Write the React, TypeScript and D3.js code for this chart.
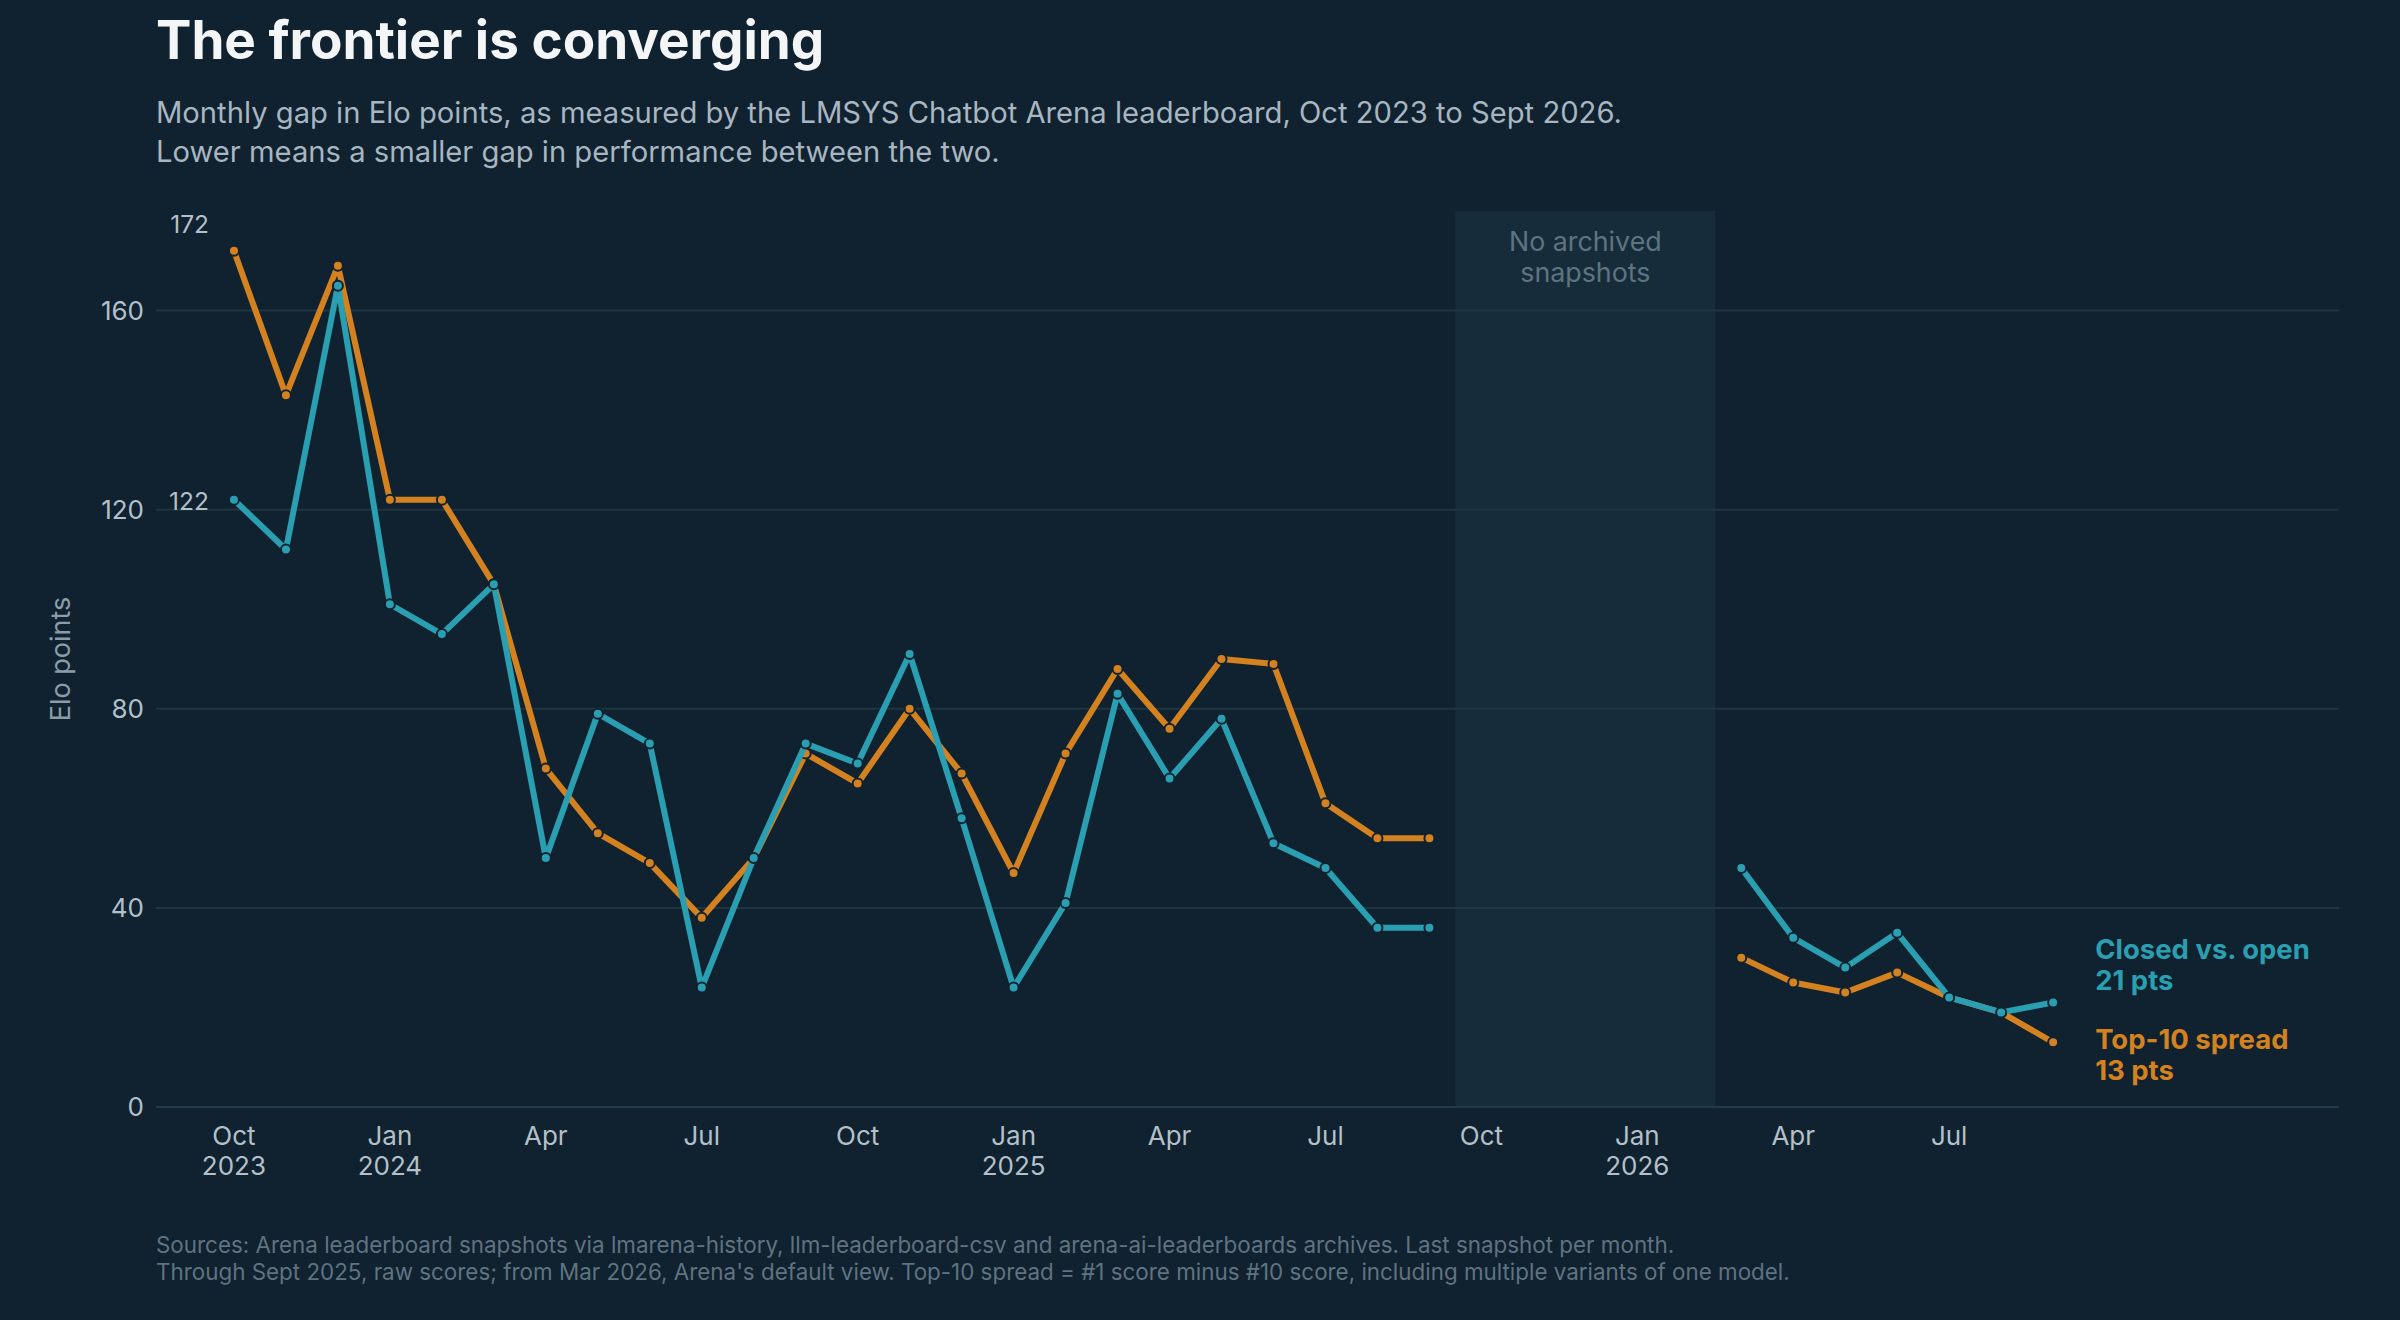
import { useEffect, useRef } from "react"
import * as d3 from "d3"

// Monthly snapshots (YYYY-MM); Oct 2025 – Feb 2026 have no archived data
const months = [
  "2023-10", "2023-11", "2023-12", "2024-01", "2024-02", "2024-03", "2024-04", "2024-05",
  "2024-06", "2024-07", "2024-08", "2024-09", "2024-10", "2024-11", "2024-12", "2025-01",
  "2025-02", "2025-03", "2025-04", "2025-05", "2025-06", "2025-07", "2025-08", "2025-09",
  "2026-03", "2026-04", "2026-05", "2026-06", "2026-07", "2026-08", "2026-09",
]

const closedVsOpen = [
  122, 112, 165, 101, 95, 105, 50, 79, 73, 24, 50, 73, 69, 91, 58, 24,
  41, 83, 66, 78, 53, 48, 36, 36,
  48, 34, 28, 35, 22, 19, 21,
]

const top10Spread = [
  172, 143, 169, 122, 122, 105, 68, 55, 49, 38, 50, 71, 65, 80, 67, 47,
  71, 88, 76, 90, 89, 61, 54, 54,
  30, 25, 23, 27, 22, 19, 13,
]

const yTicks = [0, 40, 80, 120, 160]
const xTickMonths = [
  "2023-10", "2024-01", "2024-04", "2024-07", "2024-10", "2025-01",
  "2025-04", "2025-07", "2025-10", "2026-01", "2026-04", "2026-07",
]
const gapStart = "2025-10"
const gapEnd = "2026-02"

const monthNames = ["Jan", "Feb", "Mar", "Apr", "May", "Jun", "Jul", "Aug", "Sep", "Oct", "Nov", "Dec"]

// months since Oct 2023
const monthIndex = (m: string) => {
  const [y, mo] = m.split("-").map(Number)
  return (y - 2023) * 12 + (mo - 10)
}

const BG = "#10212f"
const TEAL = "#2a9fb1"
const ORANGE = "#d4811f"
const FONT = "Inter, 'Noto Sans', sans-serif"

export default function App() {
  const svgRef = useRef<SVGSVGElement>(null)

  useEffect(() => {
    document.body.style.margin = "0"
    document.body.style.background = BG
    if (!svgRef.current) return

    const svg = d3.select(svgRef.current)
    svg.selectAll("*").remove()

    const width = 2400
    const height = 1320
    const margin = { top: 211, right: 61, bottom: 213, left: 156 }

    svg.append("rect").attr("width", width).attr("height", height).attr("fill", BG)

    const x = d3
      .scaleLinear()
      .domain([-1.5, 40.5])
      .range([margin.left, width - margin.right])
    const y = d3
      .scaleLinear()
      .domain([0, 180])
      .range([height - margin.bottom, margin.top])

    // Title + subtitle
    svg
      .append("text")
      .attr("x", margin.left)
      .attr("y", 59)
      .attr("font-family", FONT)
      .attr("font-size", 53)
      .attr("font-weight", 700)
      .attr("fill", "#f3f5f7")
      .text("The frontier is converging")

    const subtitle = [
      "Monthly gap in Elo points, as measured by the LMSYS Chatbot Arena leaderboard, Oct 2023 to Sept 2026.",
      "Lower means a smaller gap in performance between the two.",
    ]
    svg
      .append("g")
      .selectAll("text")
      .data(subtitle)
      .join("text")
      .attr("x", margin.left)
      .attr("y", (_, i) => 123 + i * 39)
      .attr("font-family", FONT)
      .attr("font-size", 29.2)
      .attr("fill", "#a7b6c0")
      .text((d) => d)

    // Missing-data band
    const bandX0 = x(monthIndex(gapStart) - 0.5)
    const bandX1 = x(monthIndex(gapEnd) + 0.5)
    svg
      .append("rect")
      .attr("x", bandX0)
      .attr("y", margin.top)
      .attr("width", bandX1 - bandX0)
      .attr("height", y(0) - margin.top)
      .attr("fill", "#162c3a")

    svg
      .append("g")
      .selectAll("text")
      .data(["No archived", "snapshots"])
      .join("text")
      .attr("x", (bandX0 + bandX1) / 2)
      .attr("y", (_, i) => 251 + i * 31)
      .attr("text-anchor", "middle")
      .attr("font-family", FONT)
      .attr("font-size", 26.8)
      .attr("fill", "#5d7482")
      .text((d) => d)

    // Grid + y axis
    const grid = svg.append("g")
    grid
      .selectAll("line")
      .data(yTicks)
      .join("line")
      .attr("x1", margin.left)
      .attr("x2", width - margin.right)
      .attr("y1", (d) => y(d))
      .attr("y2", (d) => y(d))
      .attr("stroke", (d) => (d === 0 ? "#1f3d49" : "#1d3641"))
      .attr("stroke-width", 2)

    grid
      .selectAll("text")
      .data(yTicks)
      .join("text")
      .attr("x", margin.left - 12)
      .attr("y", (d) => y(d))
      .attr("dy", "0.35em")
      .attr("text-anchor", "end")
      .attr("font-family", FONT)
      .attr("font-size", 26)
      .attr("fill", "#b3c0c9")
      .text((d) => d)

    svg
      .append("text")
      .attr("transform", `translate(61,${(y(0) + margin.top) / 2}) rotate(-90)`)
      .attr("dy", "0.35em")
      .attr("text-anchor", "middle")
      .attr("font-family", FONT)
      .attr("font-size", 27)
      .attr("fill", "#8a9ca8")
      .text("Elo points")

    // X axis labels
    const xg = svg.append("g")
    xTickMonths.forEach((m) => {
      const [yr, mo] = m.split("-").map(Number)
      const first = m === xTickMonths[0] || mo === 1
      const t = xg
        .append("text")
        .attr("x", x(monthIndex(m)))
        .attr("y", 1145)
        .attr("text-anchor", "middle")
        .attr("font-family", FONT)
        .attr("font-size", 26)
        .attr("fill", "#b3c0c9")
      t.append("tspan").attr("x", x(monthIndex(m))).text(monthNames[mo - 1])
      if (first) t.append("tspan").attr("x", x(monthIndex(m))).attr("dy", 30).text(yr)
    })

    // Series
    const series = [
      { name: "Top-10 spread", values: top10Spread, color: ORANGE },
      { name: "Closed vs. open", values: closedVsOpen, color: TEAL },
    ]

    const line = d3
      .line<{ i: number; v: number }>()
      .x((d) => x(d.i))
      .y((d) => y(d.v))

    series.forEach((s) => {
      const pts = months.map((m, k) => ({ i: monthIndex(m), v: s.values[k] }))
      // split where months are missing
      const segments: { i: number; v: number }[][] = []
      pts.forEach((p, k) => {
        if (k === 0 || p.i - pts[k - 1].i > 1) segments.push([])
        segments[segments.length - 1].push(p)
      })
      const g = svg.append("g")
      g.selectAll("path")
        .data(segments)
        .join("path")
        .attr("d", (d) => line(d))
        .attr("fill", "none")
        .attr("stroke", s.color)
        .attr("stroke-width", 6)
        .attr("stroke-linejoin", "round")
      g.selectAll("circle")
        .data(pts)
        .join("circle")
        .attr("cx", (d) => x(d.i))
        .attr("cy", (d) => y(d.v))
        .attr("r", 5)
        .attr("fill", s.color)
        .attr("stroke", BG)
        .attr("stroke-width", 2)
    })

    // Start-value annotations
    const ann = svg.append("g").attr("font-family", FONT).attr("font-size", 24.5).attr("fill", "#b3c0c9")
    ann
      .append("text")
      .attr("x", x(0) - 25)
      .attr("y", y(top10Spread[0]) - 26)
      .attr("dy", "0.35em")
      .attr("text-anchor", "end")
      .text(top10Spread[0])
    ann
      .append("text")
      .attr("x", x(0) - 25)
      .attr("y", y(closedVsOpen[0]) + 2)
      .attr("dy", "0.35em")
      .attr("text-anchor", "end")
      .text(closedVsOpen[0])

    // End labels
    const last = months.length - 1
    const lx = x(monthIndex(months[last])) + 42
    const endLabels = [
      { lines: ["Closed vs. open", `${closedVsOpen[last]} pts`], color: TEAL, y0: y(closedVsOpen[last]) - 43 },
      { lines: ["Top-10 spread", `${top10Spread[last]} pts`], color: ORANGE, y0: y(top10Spread[last]) + 7 },
    ]
    endLabels.forEach((l) => {
      svg
        .append("g")
        .selectAll("text")
        .data(l.lines)
        .join("text")
        .attr("x", lx)
        .attr("y", (_, i) => l.y0 + i * 31)
        .attr("font-family", FONT)
        .attr("font-size", 27.5)
        .attr("font-weight", 700)
        .attr("fill", l.color)
        .text((d) => d)
    })

    // Footer
    const notes = [
      "Sources: Arena leaderboard snapshots via lmarena-history, llm-leaderboard-csv and arena-ai-leaderboards archives. Last snapshot per month.",
      "Through Sept 2025, raw scores; from Mar 2026, Arena's default view. Top-10 spread = #1 score minus #10 score, including multiple variants of one model.",
    ]
    svg
      .append("g")
      .selectAll("text")
      .data(notes)
      .join("text")
      .attr("x", margin.left)
      .attr("y", (_, i) => 1253 + i * 27)
      .attr("font-family", FONT)
      .attr("font-size", 22.4)
      .attr("fill", "#5f7381")
      .text((d) => d)
  }, [])

  return <svg ref={svgRef} width={2400} height={1320} style={{ display: "block" }} />
}
